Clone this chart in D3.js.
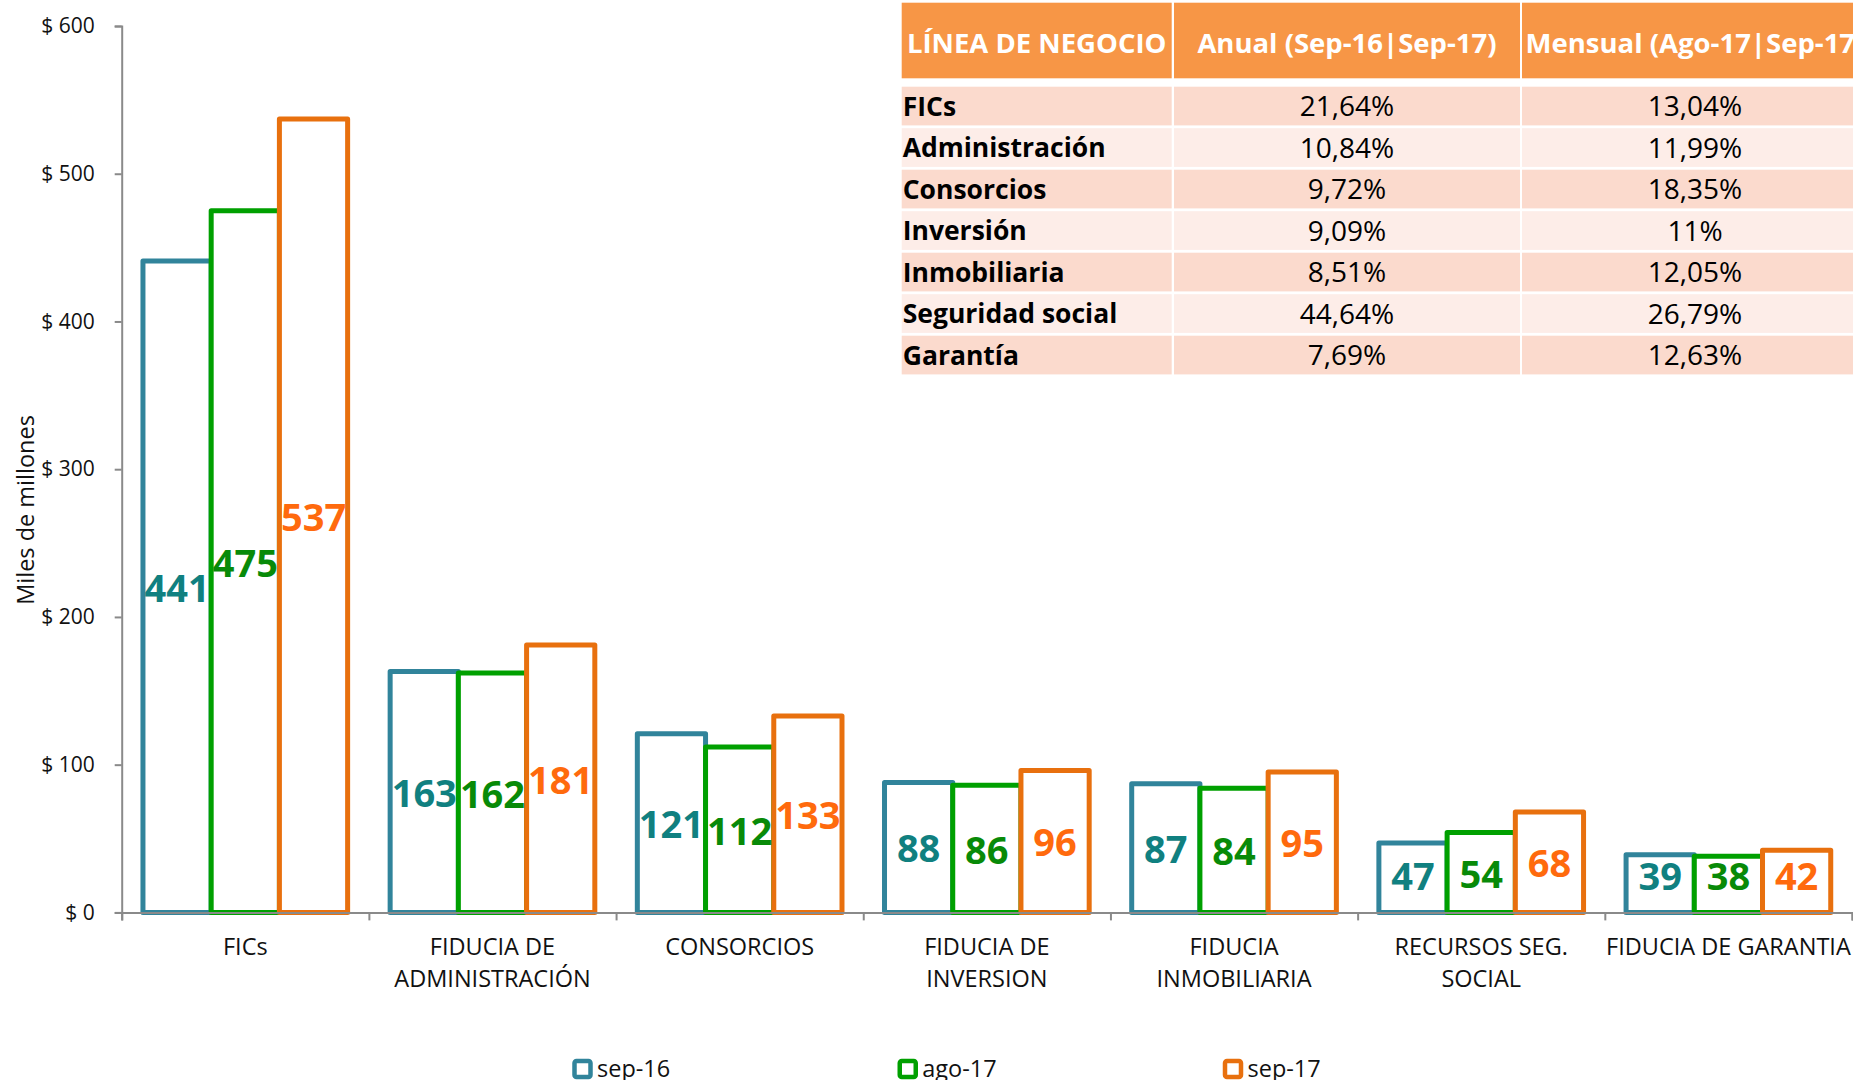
<!DOCTYPE html>
<html>
<head>
<meta charset="utf-8">
<script src="https://cdn.jsdelivr.net/npm/d3@7"></script>
<style>
	html, body { margin: 0; padding: 0; background: #fff; overflow: hidden; }
	svg { display: block; font-family: "Open Sans", "Noto Sans", sans-serif; }
</style>
</head>
<body>
<div id="chart"></div>
<script>
// chart data
var categories = ["FICs", "FIDUCIA DE\nADMINISTRACIÓN", "CONSORCIOS", "FIDUCIA DE\nINVERSION", "FIDUCIA\nINMOBILIARIA", "RECURSOS SEG.\nSOCIAL", "FIDUCIA DE GARANTIA"];
var series = ["sep-16", "ago-17", "sep-17"];
var sep16 = [441, 163, 121, 88, 87, 47, 39];
var ago17 = [475, 162, 112, 86, 84, 54, 38];
var sep17 = [537, 181, 133, 96, 95, 68, 42];
var yTicks = [0, 100, 200, 300, 400, 500, 600];
var yTitle = "Miles de millones";

// table data
var tableHeader = ["LÍNEA DE NEGOCIO", "Anual (Sep-16|Sep-17)", "Mensual (Ago-17|Sep-17)"];
var tableLines = ["FICs", "Administración", "Consorcios", "Inversión", "Inmobiliaria", "Seguridad social", "Garantía"];
var anual = ["21,64%", "10,84%", "9,72%", "9,09%", "8,51%", "44,64%", "7,69%"];
var mensual = ["13,04%", "11,99%", "18,35%", "11%", "12,05%", "26,79%", "12,63%"];

var values = [sep16, ago17, sep17];
var strokeColor = ["#31849B", "#00A000", "#E8700E"];
var labelColor = ["#108080", "#088A08", "#FF6A0D"];

var width = 1853, height = 1080;

var svg = d3.select("#chart").append("svg")
	.attr("width", width)
	.attr("height", height);

var y = d3.scaleLinear().domain([0, 600]).range([912.4, 26]);
var x0 = d3.scaleBand().domain(categories).range([121.7, 1852]).paddingInner(0.172).paddingOuter(0.086);
var x1 = d3.scaleBand().domain(series).range([0, x0.bandwidth()]);
var xEdges = d3.scaleLinear().domain([0, categories.length]).range([121.7, 1852]);

// y axis
var yAxis = svg.append("g")
	.attr("transform", "translate(121.7,0)")
	.call(d3.axisLeft(y).tickValues(yTicks).tickSize(7).tickPadding(20).tickFormat(function(d)
	{
		return "$ " + d;
	}));
yAxis.select(".domain").attr("stroke", "#8a8a8a").attr("stroke-width", 2);
yAxis.selectAll(".tick line").attr("stroke", "#8a8a8a").attr("stroke-width", 2);
yAxis.selectAll("text").attr("font-size", 21).attr("font-family", "Open Sans").attr("fill", "#111");

svg.append("text")
	.attr("transform", "translate(34,510) rotate(-90)")
	.attr("text-anchor", "middle")
	.attr("font-size", 23.5)
	.attr("fill", "#111")
	.text(yTitle);

// bars, one group per series
for(var s = 0; s < series.length; s++)
{
	var g = svg.append("g").attr("class", "series" + s);
	g.selectAll("rect").data(values[s]).enter().append("rect")
		.attr("x", function(d, i)
		{
			return x0(categories[i]) + x1(series[s]);
		})
		.attr("y", function(d)
		{
			return y(d);
		})
		.attr("width", x1.bandwidth())
		.attr("height", function(d)
		{
			return y(0) - y(d);
		})
		.attr("fill", "#fff")
		.attr("stroke", strokeColor[s])
		.attr("stroke-width", 5)
		.attr("stroke-linejoin", "round");
}

// x axis (after bars so the baseline sits on top)
var xAxis = svg.append("g")
	.attr("transform", "translate(0," + y(0) + ")")
	.call(d3.axisBottom(xEdges).ticks(categories.length).tickSize(8).tickFormat(""));
xAxis.select(".domain").attr("stroke", "#8a8a8a").attr("stroke-width", 2);
xAxis.selectAll(".tick line").attr("stroke", "#8a8a8a").attr("stroke-width", 2);

svg.append("g").selectAll("text").data(categories).enter().append("text")
	.attr("text-anchor", "middle")
	.attr("font-size", 23.5)
	.attr("fill", "#111")
	.each(function(d)
	{
		var lines = d.split("\n");
		var cx = x0(d) + x0.bandwidth() / 2;
		for(var k = 0; k < lines.length; k++)
		{
			d3.select(this).append("tspan")
				.attr("x", cx)
				.attr("y", 955 + k * 32)
				.text(lines[k]);
		}
	});

// bar labels
for(var s = 0; s < series.length; s++)
{
	svg.append("g").selectAll("text").data(values[s]).enter().append("text")
		.attr("x", function(d, i)
		{
			return x0(categories[i]) + x1(series[s]) + x1.bandwidth() / 2;
		})
		.attr("y", function(d)
		{
			var mid = (y(d) + y(0)) / 2 + 1.5;
			return Math.min(mid, y(0) - 35.7) + 13.5;
		})
		.attr("text-anchor", "middle")
		.attr("font-size", 38)
		.attr("font-weight", "bold")
		.attr("fill", labelColor[s])
		.text(function(d)
		{
			return d;
		});
}

// table
var colX = [901.7, 1174, 1522];
var colW = [270, 346, 346];
var headTop = 2.7, headH = 75.6;
var rowTop = 86.7, rowStep = 41.5, rowH = 38.7;

var table = svg.append("g").attr("class", "table");
table.selectAll("rect.head").data(tableHeader).enter().append("rect")
	.attr("class", "head")
	.attr("x", function(d, i) { return colX[i]; })
	.attr("y", headTop)
	.attr("width", function(d, i) { return colW[i]; })
	.attr("height", headH)
	.attr("fill", "#F79646");
table.selectAll("text.head").data(tableHeader).enter().append("text")
	.attr("class", "head")
	.attr("x", function(d, i) { return colX[i] + colW[i] / 2; })
	.attr("y", headTop + headH / 2 + 0.36 * 27.5 + 2.5)
	.attr("text-anchor", "middle")
	.attr("font-size", 27.5)
	.attr("font-weight", "bold")
	.attr("fill", "#fff")
	.text(function(d) { return d; });

var rows = table.selectAll("g.row").data(tableLines).enter().append("g")
	.attr("class", "row")
	.attr("transform", function(d, i)
	{
		return "translate(0," + (rowTop + i * rowStep) + ")";
	});
rows.each(function(d, i)
{
	var cells = [d, anual[i], mensual[i]];
	var row = d3.select(this);
	for(var c = 0; c < 3; c++)
	{
		var fs = c == 0 ? 26.5 : 28;
		row.append("rect")
			.attr("x", colX[c])
			.attr("y", 0)
			.attr("width", colW[c])
			.attr("height", rowH)
			.attr("fill", i % 2 == 0 ? "#FBDACD" : "#FDEDE8");
		row.append("text")
			.attr("x", c == 0 ? colX[c] + 1 : colX[c] + colW[c] / 2)
			.attr("y", rowH / 2 + 0.36 * fs)
			.attr("text-anchor", c == 0 ? "start" : "middle")
			.attr("font-size", fs)
			.attr("font-weight", c == 0 ? "bold" : "normal")
			.attr("fill", "#000")
			.text(cells[c]);
	}
});

// legend
var lx = d3.scalePoint().domain(series).range([574.5, 1225]);
var legend = svg.append("g").selectAll("g").data(series).enter().append("g")
	.attr("transform", function(d)
	{
		return "translate(" + lx(d) + ",1061)";
	});
legend.append("rect")
	.attr("width", 16)
	.attr("height", 16)
	.attr("rx", 2)
	.attr("fill", "#fff")
	.attr("stroke", function(d, i) { return strokeColor[i]; })
	.attr("stroke-width", 4.5);
legend.append("text")
	.attr("x", 22.5)
	.attr("y", 16)
	.attr("font-size", 23.5)
	.attr("fill", "#111")
	.text(function(d) { return d; });
</script>
</body>
</html>
